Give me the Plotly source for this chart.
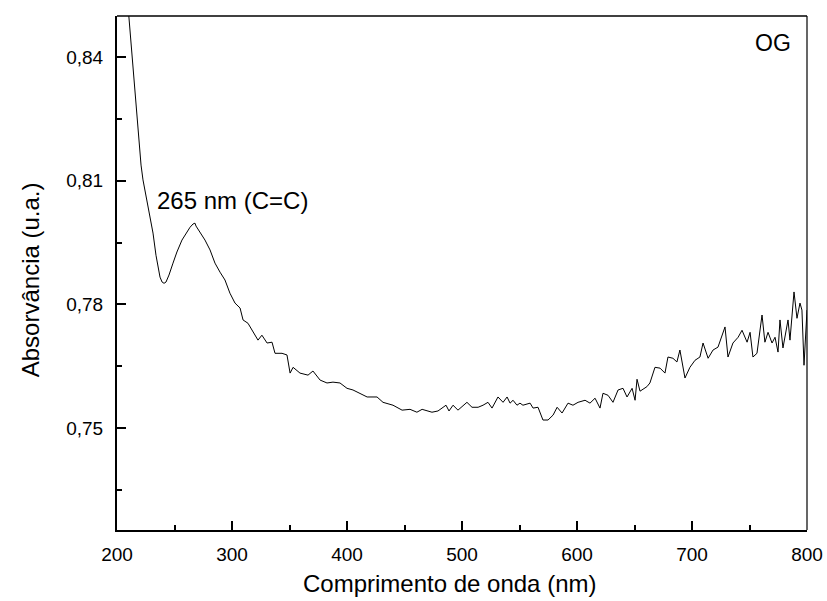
import plotly.graph_objects as go

# UV-Vis spectrum of OG
wavelength = [
    200, 205, 210.4, 212.2, 213.9, 215.7, 218.3, 220.9, 222.6, 224.3, 226.1, 228.7,
    231.3, 233.9, 235.7, 237.4, 239.2, 240.9, 242.6, 245.2, 248.7, 252.1, 256.5,
    260.0, 263.5, 266.1, 267.8, 268.7, 270.4, 272.2,
    276.5, 280.9, 285.2, 289.6, 293.9, 298.2, 302.6, 307.0, 309.6, 313.9, 318.2,
    322.6, 326.0, 330.5, 334.8, 337.4, 343.5, 347.8, 350.5, 353.1, 359.1, 366.1,
    370.4, 376.6, 382.6, 387.8, 393.9, 400.0, 405.2, 411.3, 417.5,
    426.1, 431.3, 440.0, 447.9, 454.8, 460.8, 465.3, 469.6, 473.9, 479.1, 482.6,
    486.1, 488.7, 492.2, 496.5, 500.9, 504.3, 508.7, 514.0, 518.3, 522.6, 526.1,
    531.3, 535.7, 539.2, 541.8, 544.4, 547.8, 550.4,
    553.0, 559.2, 561.8, 566.1, 570.4, 574.8, 579.2, 582.7, 587.0, 592.2, 596.5,
    600.9, 607.0, 611.3, 615.7, 620.0, 622.6, 627.0, 631.3, 635.7, 640.0, 643.5,
    647.9, 650.5, 652.2, 654.8, 660.8, 663.4, 667.8, 672.2,
    676.5, 679.1, 683.4, 686.9, 689.5, 693.9, 698.2, 702.6, 706.9, 709.6, 714.0,
    718.3, 722.6, 728.7, 731.3, 735.6, 740.1, 743.5, 747.9, 750.5, 753.0, 756.5,
    760.9, 763.4, 766.1, 769.6, 772.2, 774.8, 776.5, 779.1, 783.5, 785.2, 788.7,
    791.3, 793.9, 795.6, 797.4, 800,
]
absorbance = [
    0.885, 0.868, 0.8500, 0.8442, 0.8376, 0.8308, 0.8216, 0.8138, 0.8102, 0.8077, 0.8053, 0.8017,
    0.7973, 0.7919, 0.7890, 0.7866, 0.7854, 0.7851, 0.7854, 0.7871, 0.7900, 0.7927, 0.7956,
    0.7973, 0.7987, 0.7995, 0.7997, 0.7990, 0.7983, 0.7973,
    0.7956, 0.7932, 0.7900, 0.7878, 0.7859, 0.7827, 0.7803, 0.7791, 0.7762, 0.7754, 0.7732,
    0.7713, 0.7725, 0.7706, 0.7708, 0.7681, 0.7681, 0.7677, 0.7633, 0.7647, 0.7633, 0.7628,
    0.7638, 0.7616, 0.7609, 0.7611, 0.7609, 0.7596, 0.7592, 0.7584, 0.7575,
    0.7575, 0.7562, 0.7555, 0.7543, 0.7545, 0.7538, 0.7545, 0.7541, 0.7538, 0.7541, 0.7548,
    0.7555, 0.7541, 0.7555, 0.7543, 0.7555, 0.7562, 0.7550, 0.7550, 0.7555, 0.7562, 0.7548,
    0.7575, 0.7562, 0.7575, 0.7560, 0.7567, 0.7555, 0.7560,
    0.7555, 0.7560, 0.7548, 0.7550, 0.7519, 0.7519, 0.7531, 0.7550, 0.7536, 0.7560, 0.7555,
    0.7562, 0.7567, 0.7560, 0.7572, 0.7548, 0.7584, 0.7579, 0.7562, 0.7592, 0.7596, 0.7575,
    0.7596, 0.7567, 0.7618, 0.7589, 0.7600, 0.7609, 0.7647, 0.7645,
    0.7633, 0.7672, 0.7669, 0.7660, 0.7689, 0.7621, 0.7647, 0.7664, 0.7672, 0.7706, 0.7669,
    0.7689, 0.7696, 0.7745, 0.7672, 0.7706, 0.7720, 0.7737, 0.7708, 0.7732, 0.7672, 0.7681,
    0.7774, 0.7708, 0.7732, 0.7706, 0.7720, 0.7684, 0.7762, 0.7694, 0.7762, 0.7713, 0.7830,
    0.7766, 0.7803, 0.7786, 0.7652, 0.7786,
]

x_ticks = [200, 300, 400, 500, 600, 700, 800]
y_ticks = [0.75, 0.78, 0.81, 0.84]

FONT = "Liberation Sans, Arial, sans-serif"

fig = go.Figure()
fig.add_trace(go.Scatter(
    x=wavelength, y=absorbance, mode="lines",
    line=dict(color="black", width=1), hoverinfo="skip", showlegend=False,
))

fig.update_layout(
    width=827, height=601,
    margin=dict(l=117, r=20, t=16, b=71),
    paper_bgcolor="white", plot_bgcolor="white",
    separators=", ",
    font=dict(family=FONT, color="black", size=19),
    showlegend=False,
)
fig.update_xaxes(
    range=[200, 800], tickvals=x_ticks, ticks="inside", ticklen=9, tickwidth=1.5,
    tickcolor="black", showline=True, linecolor="black", linewidth=2,
    showgrid=False, zeroline=False, ticklabelstandoff=6, automargin=False,
    tickfont=dict(size=19, family=FONT),
    minor=dict(dtick=50, tick0=200, ticks="inside", ticklen=5, tickwidth=1.5, tickcolor="black"),
)
fig.update_yaxes(
    range=[0.7252, 0.850], tickvals=y_ticks, tickformat=".2f", ticks="inside",
    ticklen=9, tickwidth=1.5, tickcolor="black", showline=True, linecolor="black",
    linewidth=2, showgrid=False, zeroline=False, ticklabelstandoff=8, automargin=False,
    tickfont=dict(size=19, family=FONT),
    minor=dict(dtick=0.015, tick0=0.735, ticks="inside", ticklen=5, tickwidth=1.5, tickcolor="black"),
)

# thin top and right frame lines
fig.add_shape(type="line", xref="paper", yref="paper", x0=0, x1=1, y0=1, y1=1,
              line=dict(color="black", width=1.3))
fig.add_shape(type="line", xref="paper", yref="paper", x0=1, x1=1, y0=0, y1=1,
              line=dict(color="black", width=1.2))

fig.add_annotation(x=233.0, y=0.8053, xref="x", yref="y", text="265 nm (C=C)",
                   showarrow=False, xanchor="left", yanchor="middle",
                   font=dict(size=24, family=FONT))
fig.add_annotation(x=787.8, y=0.8434, xref="x", yref="y", text="OG",
                   showarrow=False, xanchor="right", yanchor="middle",
                   font=dict(size=23, family=FONT))
fig.add_annotation(x=0.4826, y=-0.105, xref="paper", yref="paper",
                   text="Comprimento de onda (nm)", showarrow=False,
                   xanchor="center", yanchor="middle", font=dict(size=24, family=FONT))
fig.add_annotation(x=-0.126, y=0.486, xref="paper", yref="paper",
                   text="Absorvância (u.a.)", showarrow=False, textangle=-90,
                   xanchor="center", yanchor="middle", font=dict(size=24, family=FONT))

fig.write_html(
    "out.html",
    config={"displayModeBar": False},
    post_script="document.body.style.margin='0';",
)
